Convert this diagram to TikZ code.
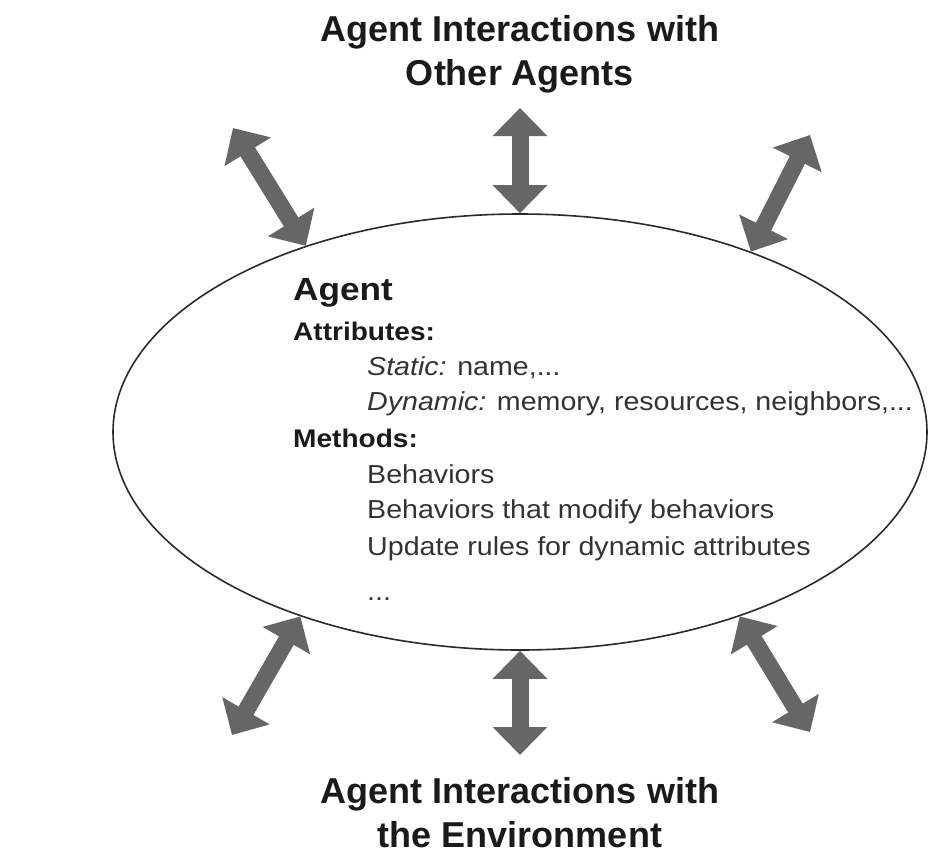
\documentclass[tikz,border=0pt]{standalone}
\usepackage{fontspec}
\setmainfont{Liberation Sans}
\newfontfamily\agentfont{Liberation Sans}[FakeStretch=1.1]
\usetikzlibrary{shapes.geometric,arrows.meta}

\definecolor{arrowgray}{HTML}{666666}
\definecolor{bodygray}{HTML}{333333}
\definecolor{headgray}{HTML}{1A1A1A}
\definecolor{rimgray}{HTML}{2A2A2A}

\tikzset{
  heading/.style={font=\bfseries\fontsize{36}{44}\selectfont, text=headgray,
    inner sep=0pt, anchor=base},
  agentname/.style={font=\agentfont\bfseries\fontsize{32}{36}\selectfont,
    text=headgray, inner sep=0pt, anchor=base west},
  section/.style={font=\agentfont\bfseries\fontsize{25.5}{30}\selectfont,
    text=headgray, inner sep=0pt, anchor=base west},
  item/.style={font=\agentfont\fontsize{26}{30}\selectfont,
    text=bodygray, inner sep=0pt, anchor=base west},
  agentshape/.style={ellipse, draw=rimgray, line width=1.6pt,
    minimum width=814pt, minimum height=436pt, inner sep=0pt},
  exchange/.style={draw=arrowgray, line width=17pt,
    {Triangle[width=53pt,length=28pt]}-{Triangle[width=53pt,length=28pt]}}
}

\begin{document}
\begin{tikzpicture}[x=1pt,y=-1pt]
  \useasboundingbox (0,0) rectangle (935,857);

  % the agent
  \node[agentshape] (agent) at (520,432) {};

  % headings
  \node[heading] (othA) at (520,41) {Agent Interactions with};
  \node[heading] (othB) at (520,85) {Other Agents};
  \node[heading] (envA) at (520,803) {Agent Interactions with};
  \node[heading] (envB) at (520,847) {the Environment};

  % contents of the agent
  \node[agentname] (name)  at (293,300) {Agent};
  \node[section]   (attr)  at (293,340) {Attributes:};
  \node[item]      (stat)  at (367,375) {\textit{Static:} name,...};
  \node[item]      (dyn)   at (367,410) {\textit{Dynamic:} memory, resources, neighbors,...};
  \node[section]   (meth)  at (293,447) {Methods:};
  \node[item]      (beh)   at (367,483) {Behaviors};
  \node[item]      (mod)   at (367,518) {Behaviors that modify behaviors};
  \node[item]      (upd)   at (367,555) {Update rules for dynamic attributes};
  \node[item]      (more)  at (367,600) {...};

  % free ends of the interaction arrows
  \coordinate (upL) at (233,128);
  \coordinate (upC) at (520,108);
  \coordinate (upR) at (810,135);
  \coordinate (dnL) at (232,735);
  \coordinate (dnC) at (520,755);
  \coordinate (dnR) at (810,732);

  % interactions with other agents
  \draw[exchange] (agent.139.9) -- (upL);
  \draw[exchange] (agent.90)    -- (upC);
  \draw[exchange] (agent.38.4)  -- (upR);

  % interactions with the environment
  \draw[exchange] (agent.220.6) -- (dnL);
  \draw[exchange] (agent.270)   -- (dnC);
  \draw[exchange] (agent.320.6) -- (dnR);
\end{tikzpicture}
\end{document}
